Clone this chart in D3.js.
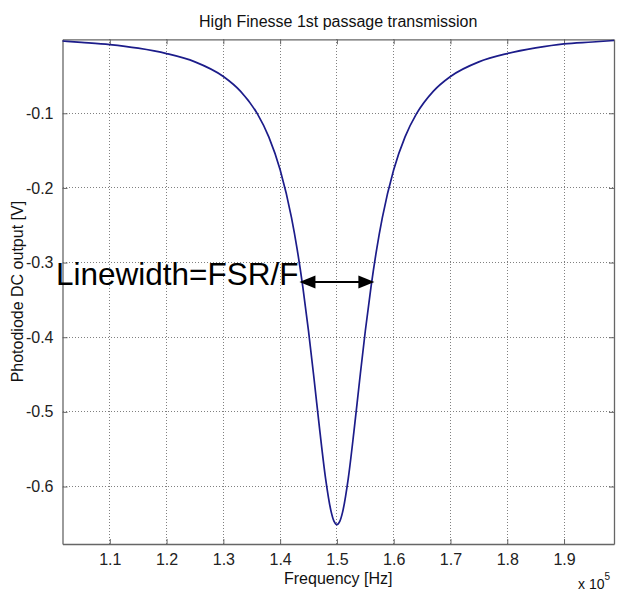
<!DOCTYPE html>
<html><head><meta charset="utf-8">
<script src="https://cdn.jsdelivr.net/npm/d3@7"></script>
<style>
html,body{margin:0;padding:0;background:#fff;}
svg{display:block;font-family:Arial,"Liberation Sans",Helvetica,sans-serif;}
</style></head>
<body>
<script>
// Frequency in units of 1e5 Hz
const freq = [1.0167,1.05,1.10,1.15,1.20,1.25,1.30,1.33,1.36,1.38,1.40,1.42,1.43,1.44,1.45,1.46,1.47,1.48,1.49,1.495,1.50,
              1.505,1.51,1.52,1.53,1.54,1.55,1.56,1.57,1.58,1.60,1.62,1.64,1.67,1.70,1.75,1.80,1.85,1.90,1.95,1.988];
const output = [-0.0032,-0.0050,-0.0080,-0.0128,-0.0200,-0.0311,-0.0507,-0.0703,-0.1009,-0.1316,-0.1757,-0.2399,-0.2822,-0.3328,-0.3917,-0.4576,-0.5262,-0.5890,-0.6343,-0.6468,-0.6510,
                -0.6468,-0.6343,-0.5890,-0.5262,-0.4576,-0.3917,-0.3328,-0.2822,-0.2399,-0.1757,-0.1316,-0.1009,-0.0703,-0.0507,-0.0311,-0.0200,-0.0125,-0.0070,-0.0045,-0.0025];
const xTicks = [1.1,1.2,1.3,1.4,1.5,1.6,1.7,1.8,1.9];
const yTicks = [-0.1,-0.2,-0.3,-0.4,-0.5,-0.6];
const xDomain = [1.0167, 1.988];
const yDomain = [-0.677, -0.0009];
const titleText = "High Finesse 1st passage transmission";
const xLabel = "Frequency [Hz]";
const yLabel = "Photodiode DC output [V]";
const annoText = "Linewidth=FSR/F";
const arrowFreq = [1.434, 1.566];
const arrowLevel = -0.326;

const W = 617, H = 591;
const m = {left:62.5, top:39.3, right:3, bottom:47};
const svg = d3.select("body").append("svg").attr("width", W).attr("height", H);
const x = d3.scaleLinear().domain(xDomain).range([m.left, W - m.right]);
const y = d3.scaleLinear().domain(yDomain).range([H - m.bottom, m.top]);

const axisColor = "#666";
// grid
const g = svg.append("g");
g.selectAll(".vg").data(xTicks).join("line")
  .attr("x1", d => x(d)).attr("x2", d => x(d)).attr("y1", y.range()[0]).attr("y2", y.range()[1])
  .attr("stroke", "#808080").attr("stroke-width", 1).attr("stroke-dasharray", "1,2")
  .attr("shape-rendering", "crispEdges");
g.selectAll(".hg").data(yTicks).join("line")
  .attr("y1", d => y(d)).attr("y2", d => y(d)).attr("x1", x.range()[0]).attr("x2", x.range()[1])
  .attr("stroke", "#808080").attr("stroke-width", 1).attr("stroke-dasharray", "1,2")
  .attr("shape-rendering", "crispEdges");

// axes
const fmt = d => d3.format(".1f")(d).replace("−", "-");
const xb = svg.append("g").attr("transform", `translate(0,${y.range()[0]})`)
  .call(d3.axisBottom(x).tickValues(xTicks).tickFormat(fmt).tickSizeInner(-5).tickSizeOuter(0).tickPadding(10));
const xt = svg.append("g").attr("transform", `translate(0,${y.range()[1]})`)
  .call(d3.axisTop(x).tickValues(xTicks).tickFormat("").tickSizeInner(-5).tickSizeOuter(0));
const yl = svg.append("g").attr("transform", `translate(${x.range()[0]},0)`)
  .call(d3.axisLeft(y).tickValues(yTicks).tickFormat(fmt).tickSizeInner(-5).tickSizeOuter(0).tickPadding(9));
const yr = svg.append("g").attr("transform", `translate(${x.range()[1]},0)`)
  .call(d3.axisRight(y).tickValues(yTicks).tickFormat("").tickSizeInner(-5).tickSizeOuter(0));
[xb, xt, yl, yr].forEach(a => {
  a.select(".domain").attr("stroke", axisColor).attr("stroke-width", 1.3);
  a.selectAll(".tick line").attr("stroke", axisColor);
  a.selectAll("text").attr("font-size", 16).attr("fill", "#222").attr("font-family", "Arial, 'Liberation Sans', sans-serif");
});

// curve
const data = freq.map((f, i) => ({f, v: output[i]}));
svg.append("path").datum(data)
  .attr("fill", "none").attr("stroke", "#1c1c8a").attr("stroke-width", 1.7)
  .attr("d", d3.line().x(d => x(d.f)).y(d => y(d.v)).curve(d3.curveMonotoneX));

// title and labels
svg.append("text").attr("x", (x.range()[0] + x.range()[1]) / 2).attr("y", 27)
  .attr("text-anchor", "middle").attr("font-size", 16).attr("fill", "#111").text(titleText);
svg.append("text").attr("x", (x.range()[0] + x.range()[1]) / 2).attr("y", 584)
  .attr("text-anchor", "middle").attr("font-size", 16).attr("fill", "#111").text(xLabel);
svg.append("text").attr("transform", `translate(23,${(y.range()[0] + y.range()[1]) / 2}) rotate(-90)`)
  .attr("text-anchor", "middle").attr("font-size", 16).attr("fill", "#111").text(yLabel);
const ex = svg.append("text").attr("x", 578).attr("y", 589).attr("font-size", 14).attr("fill", "#111");
ex.append("tspan").text("x 10");
ex.append("tspan").attr("dy", -9).attr("font-size", 10).text("5");

// annotation
const ay = y(arrowLevel);
const x1 = x(arrowFreq[0]), x2 = x(arrowFreq[1]);
const hl = 16, hw = 6.5;
svg.append("line").attr("x1", x1 + hl - 2).attr("x2", x2 - hl + 2).attr("y1", ay).attr("y2", ay)
  .attr("stroke", "#000").attr("stroke-width", 2);
svg.append("path").attr("d", `M${x1},${ay} L${x1 + hl},${ay - hw} L${x1 + hl},${ay + hw} Z`).attr("fill", "#000");
svg.append("path").attr("d", `M${x2},${ay} L${x2 - hl},${ay - hw} L${x2 - hl},${ay + hw} Z`).attr("fill", "#000");
svg.append("text").attr("x", x1 - 1).attr("y", ay + 3).attr("text-anchor", "end")
  .attr("font-size", 31.5).attr("fill", "#000").text(annoText);
</script>
</body></html>
